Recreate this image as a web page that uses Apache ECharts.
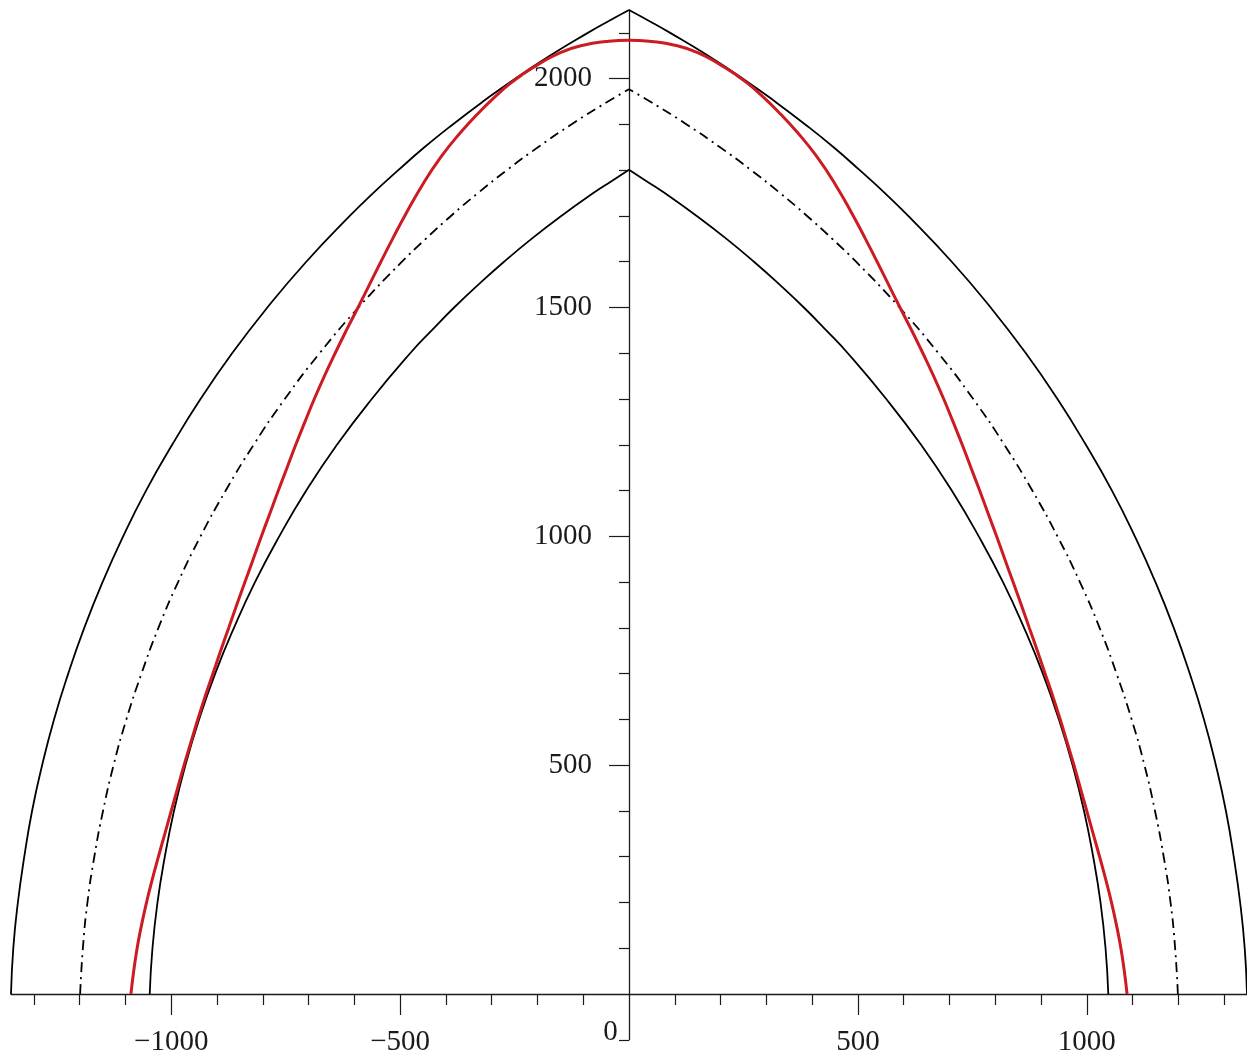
<!DOCTYPE html>
<html>
<head>
<meta charset="utf-8">
<script src="https://cdn.jsdelivr.net/npm/echarts@6/dist/echarts.min.js"></script>
<style>
  html, body { margin: 0; padding: 0; background: #ffffff; }
  #chart { width: 1247px; height: 1059px; }
</style>
</head>
<body>
<div id="chart"></div>
<script>
// Pointed arch: extrados, centre line and intrados (each side a separate arc so the crown stays sharp)
const outerLeft = [[-1350,0],[-1345,100],[-1335,200],[-1321,300],[-1304,400],[-1282,500],[-1256,600],[-1225,700],[-1190,800],[-1150,900],[-1105,1000],[-1055,1100],[-998,1200],[-936,1300],[-867,1400],[-790,1500],[-705,1600],[-610,1700],[-559,1750],[-504,1800],[-447,1850],[-385,1900],[-319,1950],[-249,2000],[-173,2050],[-90,2100],[-46,2125],[0,2150]];
const outerRight = [[1350,0],[1345,100],[1335,200],[1321,300],[1304,400],[1282,500],[1256,600],[1225,700],[1190,800],[1150,900],[1105,1000],[1055,1100],[998,1200],[936,1300],[867,1400],[790,1500],[705,1600],[610,1700],[559,1750],[504,1800],[447,1850],[385,1900],[319,1950],[249,2000],[173,2050],[90,2100],[46,2125],[0,2150]];

const midLeft = [[-1199,0],[-1193,100],[-1183,200],[-1168,300],[-1149,400],[-1126,500],[-1098,600],[-1065,700],[-1028,800],[-985,900],[-936,1000],[-881,1100],[-820,1200],[-752,1300],[-676,1400],[-591,1500],[-496,1600],[-444,1650],[-389,1700],[-330,1750],[-267,1800],[-199,1850],[-126,1900],[-46,1950],[0,1977]];
const midRight = [[1199,0],[1193,100],[1183,200],[1168,300],[1149,400],[1126,500],[1098,600],[1065,700],[1028,800],[985,900],[936,1000],[881,1100],[820,1200],[752,1300],[676,1400],[591,1500],[496,1600],[444,1650],[389,1700],[330,1750],[267,1800],[199,1850],[126,1900],[46,1950],[0,1977]];

const innerLeft = [[-1047,0],[-1041,100],[-1030,200],[-1014,300],[-994,400],[-969,500],[-939,600],[-904,700],[-863,800],[-817,900],[-764,1000],[-705,1100],[-638,1200],[-562,1300],[-478,1400],[-431,1450],[-382,1500],[-329,1550],[-273,1600],[-213,1650],[-148,1700],[-78,1750],[-40,1775],[0,1801]];
const innerRight = [[1047,0],[1041,100],[1030,200],[1014,300],[994,400],[969,500],[939,600],[904,700],[863,800],[817,900],[764,1000],[705,1100],[638,1200],[562,1300],[478,1400],[431,1450],[382,1500],[329,1550],[273,1600],[213,1650],[148,1700],[78,1750],[40,1775],[0,1801]];

// Thrust line, springing to springing
const thrustLine = [
  [-1088,0],[-1082,50],[-1074.5,100],[-1065,150],[-1054,200],[-1041.5,250],[-1028,300],[-1014,350],[-1000,400],[-986,450],
  [-972,500],[-957,550],[-942,600],[-926,650],[-909,700],[-892,750],[-874.5,800],[-857,850],[-839,900],[-821,950],
  [-803,1000],[-784.5,1050],[-766,1100],[-747,1150],[-728,1200],[-708,1250],[-687.5,1300],[-665.5,1350],[-642,1400],[-617.5,1450],
  [-592,1500],[-567,1550],[-542,1600],[-516.5,1650],[-490,1700],[-450,1770],[-410,1830],[-370,1880],[-324,1930],[-290,1963],
  [-260,1989],[-230,2011],[-200,2030],[-150,2057],[-100,2073],[-50,2081],[0,2084],
  [50,2081],[100,2073],[150,2057],[200,2030],[230,2011],[260,1989],[290,1963],[324,1930],[370,1880],[410,1830],[450,1770],
  [490,1700],[516.5,1650],[542,1600],[567,1550],[592,1500],[617.5,1450],[642,1400],[665.5,1350],[687.5,1300],[708,1250],
  [728,1200],[747,1150],[766,1100],[784.5,1050],[803,1000],[821,950],[839,900],[857,850],[874.5,800],[892,750],
  [909,700],[926,650],[942,600],[957,550],[972,500],[986,450],[1000,400],[1014,350],[1028,300],[1041.5,250],
  [1054,200],[1065,150],[1074.5,100],[1082,50],[1088,0]
];

// Axis ticks and labels
const xMinorTicks = [-1300,-1200,-1100,-900,-800,-700,-600,-400,-300,-200,-100,100,200,300,400,600,700,800,900,1100,1200,1300];
const xMajorTicks = [-1000,-500,500,1000];
const xLabelValues = [-1000,-500,0,500,1000];
const yMinorTicks = [-100,100,200,300,400,600,700,800,900,1100,1200,1300,1400,1600,1700,1800,1900,2100];
const yMajorTicks = [500,1000,1500,2000];
const yLabelValues = [500,1000,1500,2000];

const serif = '"Liberation Serif", "Times New Roman", serif';
const ink = '#1b1b1b';
const axisLineStyle = { color: ink, width: 1.3 };

// plot box: x in [-1350, 1350], y in [-100, 2150], equal scale on both axes
const gridBox = { left: 11, right: 0, top: 10, bottom: 19.2 };
const plotW = 1247 - gridBox.left - gridBox.right;
const plotH = 1059 - gridBox.top - gridBox.bottom;
// the labelled axes sit on the zero lines
const yZeroOffset = -(plotW * 1350 / 2700);
const xZeroOffset = -(plotH * 100 / 2250);

function xLabel(v) {
  if (v === 0) return '{o|0}';
  return '{n|' + (v < 0 ? '\u2212' + Math.abs(v) : String(v)) + '}';
}

const chart = echarts.init(document.getElementById('chart'), null, { renderer: 'canvas' });

const option = {
  animation: false,
  backgroundColor: '#ffffff',
  grid: {
    left: gridBox.left, right: gridBox.right, top: gridBox.top, bottom: gridBox.bottom, containLabel: false,
    outerBounds: { left: -400, right: -400, top: -400, bottom: -400 }
  },
  xAxis: [
    {
      type: 'value', min: -1350, max: 1350, position: 'bottom',
      axisLine: { show: true, onZero: true, lineStyle: axisLineStyle },
      axisTick: { show: true, customValues: xMinorTicks, length: 11, lineStyle: { color: ink, width: 1.2 } },
      axisLabel: { show: false },
      splitLine: { show: false }
    },
    {
      type: 'value', min: -1350, max: 1350, position: 'bottom', offset: xZeroOffset,
      axisLine: { show: false, onZero: false },
      axisTick: { show: true, customValues: xMajorTicks, length: 21, lineStyle: { color: ink, width: 1.2 } },
      axisLabel: {
        show: true, customValues: xLabelValues, margin: 24,
        formatter: xLabel,
        rich: {
          n: { fontFamily: serif, fontSize: 29, color: ink, padding: [10, 0, 0, 0] },
          o: { fontFamily: serif, fontSize: 29, color: ink, padding: [0, 37, 0, 0] }
        }
      },
      splitLine: { show: false }
    }
  ],
  yAxis: [
    {
      type: 'value', min: -100, max: 2150, position: 'left',
      axisLine: { show: true, onZero: true, lineStyle: axisLineStyle },
      axisTick: { show: true, customValues: yMinorTicks, length: 10, lineStyle: { color: ink, width: 1.2 } },
      axisLabel: { show: false },
      splitLine: { show: false }
    },
    {
      type: 'value', min: -100, max: 2150, position: 'left', offset: yZeroOffset,
      axisLine: { show: false, onZero: false },
      axisTick: { show: true, customValues: yMajorTicks, length: 20, lineStyle: { color: ink, width: 1.2 } },
      axisLabel: {
        show: true, customValues: yLabelValues, margin: 37, padding: [4, 0, 0, 0],
        formatter: function (v) { return String(v); },
        fontFamily: serif, fontSize: 29, color: ink
      },
      splitLine: { show: false }
    }
  ],
  series: [
    { name: 'extrados', type: 'line', data: outerLeft, smooth: true, symbol: 'none', lineStyle: { color: '#000', width: 1.8 } },
    { name: 'extrados', type: 'line', data: outerRight, smooth: true, symbol: 'none', lineStyle: { color: '#000', width: 1.8 } },
    { name: 'centre line', type: 'line', data: midLeft, smooth: true, symbol: 'none', lineStyle: { color: '#000', width: 1.8, type: [10, 5, 2, 5] } },
    { name: 'centre line', type: 'line', data: midRight, smooth: true, symbol: 'none', lineStyle: { color: '#000', width: 1.8, type: [10, 5, 2, 5] } },
    { name: 'intrados', type: 'line', data: innerLeft, smooth: true, symbol: 'none', lineStyle: { color: '#000', width: 1.8 } },
    { name: 'intrados', type: 'line', data: innerRight, smooth: true, symbol: 'none', lineStyle: { color: '#000', width: 1.8 } },
    { name: 'thrust line', type: 'line', data: thrustLine, smooth: true, symbol: 'none', z: 3, lineStyle: { color: '#cc1b22', width: 3 } }
  ]
};

chart.setOption(option);
</script>
</body>
</html>
